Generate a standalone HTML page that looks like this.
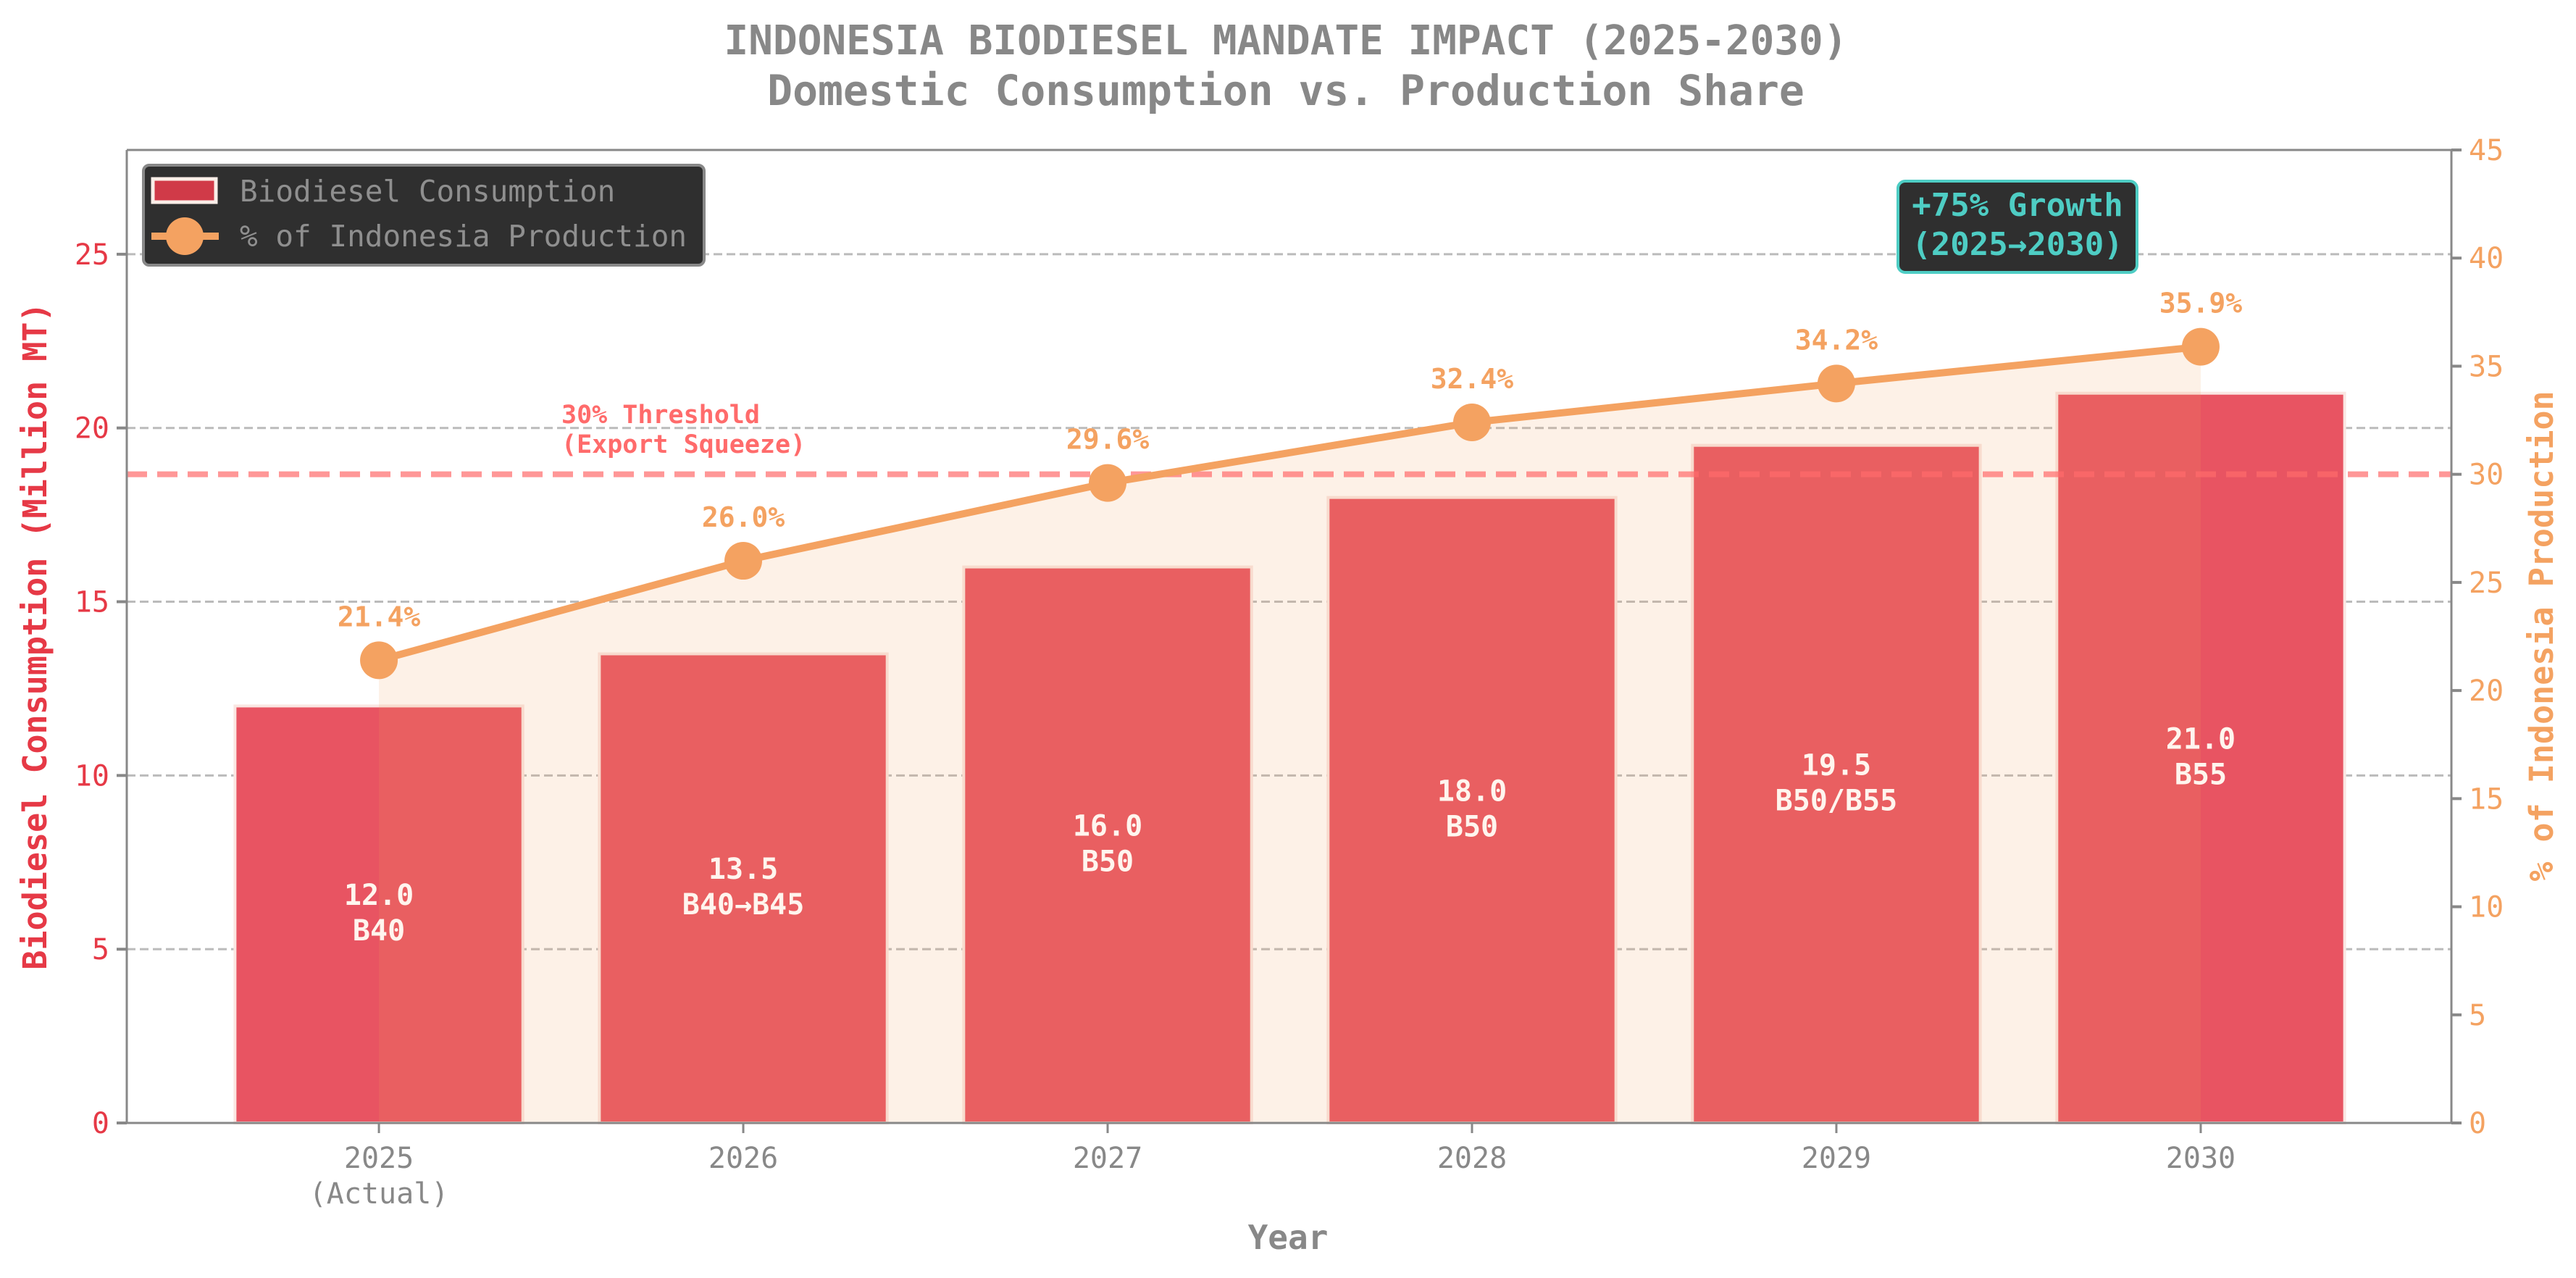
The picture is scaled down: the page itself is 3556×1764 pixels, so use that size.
<!DOCTYPE html>
<html><head><meta charset="utf-8">
<style>
html,body{margin:0;padding:0;background:#fff;}
svg{display:block;font-family:"DejaVu Sans Mono","Liberation Mono",monospace;}
</style></head>
<body>
<svg id="chart" width="3556" height="1764" viewBox="0 0 3556 1764" xmlns="http://www.w3.org/2000/svg">
<g id="grid"></g>
<g id="bars"></g>
<g id="fill"></g>
<g id="thresh"></g>
<g id="line"></g>
<g id="axes"></g>
<g id="labels"></g>
<text x="1775" y="75" text-anchor="middle" font-size="56" font-weight="bold" fill="#888">INDONESIA BIODIESEL MANDATE IMPACT (2025-2030)</text>
<text x="1775" y="145" text-anchor="middle" font-size="58" font-weight="bold" fill="#888">Domestic Consumption vs. Production Share</text>
<text x="1778" y="1724" text-anchor="middle" font-size="46" font-weight="bold" fill="#888">Year</text>
<text transform="translate(64,878) rotate(-90)" text-anchor="middle" font-size="45" font-weight="bold" fill="#E63946">Biodiesel Consumption (Million MT)</text>
<text transform="translate(3524,878) rotate(-90)" text-anchor="middle" font-size="45" font-weight="bold" fill="#F4A261">% of Indonesia Production</text>
<g>
<rect x="198" y="228" width="774" height="138" rx="8" fill="#2f2f2f" stroke="#888" stroke-width="4"/>
<rect x="211" y="247" width="87" height="32" fill="#D03A48" stroke="#fbeee8" stroke-width="5"/>
<text x="331" y="278" font-size="41" fill="#8f8f8f">Biodiesel Consumption</text>
<line x1="209" y1="326" x2="302" y2="326" stroke="#F4A261" stroke-width="10"/>
<circle cx="255" cy="326" r="26" fill="#F4A261"/>
<text x="331" y="340" font-size="41" fill="#8f8f8f">% of Indonesia Production</text>
</g>
<g>
<rect x="2620" y="250" width="330" height="126" rx="10" fill="#2f2f2f" stroke="#4ECDC4" stroke-width="4"/>
<text x="2785" y="298" text-anchor="middle" font-size="44" font-weight="bold" fill="#4ECDC4">+75% Growth</text>
<text x="2785" y="352" text-anchor="middle" font-size="44" font-weight="bold" fill="#4ECDC4">(2025→2030)</text>
</g>
<g>
<text x="775" y="584" font-size="35" font-weight="bold" fill="#FF6B6B">30% Threshold</text>
<text x="775" y="625" font-size="35" font-weight="bold" fill="#FF6B6B">(Export Squeeze)</text>
</g>
</svg>
<script>
const years = ["2025","2026","2027","2028","2029","2030"];
const yearSub = ["(Actual)","","","","",""];
const consumption = [12.0, 13.5, 16.0, 18.0, 19.5, 21.0];
const mandates = ["B40","B40→B45","B50","B50","B50/B55","B55"];
const share = [21.4, 26.0, 29.6, 32.4, 34.2, 35.9];
const leftTicks = [0,5,10,15,20,25];
const rightTicks = [0,5,10,15,20,25,30,35,40,45];
const threshold = 30;

const NS="http://www.w3.org/2000/svg";
const L=175,R=3384,T=207,B=1550;
const xMin=-0.692,xMax=5.688,yMax=28,y2Max=45;
const xs=i=>L+(i-xMin)/(xMax-xMin)*(R-L);
const yL=v=>B-v/yMax*(B-T);
const yR=v=>B-v/y2Max*(B-T);
function mk(tag,attrs,parent,text){const e=document.createElementNS(NS,tag);for(const k in attrs)e.setAttribute(k,attrs[k]);if(text!==undefined)e.textContent=text;document.getElementById(parent).appendChild(e);return e;}

leftTicks.forEach(v=>{if(v>0){
 const g=mk('line',{x1:L,x2:R,y1:yL(v),y2:yL(v),stroke:'#bbb','stroke-width':3,'stroke-dasharray':'12 6'},'grid');
 
 }});

const bw=0.79*(xs(1)-xs(0));
consumption.forEach((v,i)=>{
 const r=mk('rect',{x:xs(i)-bw/2,y:yL(v),width:bw,height:B-yL(v),fill:'#E85462',stroke:'#fae6e2','stroke-width':4},'bars');
 
 
});

let pts=`${xs(0)},${B} `+share.map((v,i)=>`${xs(i)},${yR(v)}`).join(' ')+` ${xs(share.length-1)},${B}`;
const f=mk('polygon',{points:pts,fill:'#F4A261','fill-opacity':0.15},'fill');



const th=mk('line',{x1:L,x2:R,y1:yR(threshold),y2:yR(threshold),stroke:'#FF6B6B','stroke-opacity':0.7,'stroke-width':8,'stroke-dasharray':'28 14'},'thresh');



const pl=mk('polyline',{points:share.map((v,i)=>`${xs(i)},${yR(v)}`).join(' '),fill:'none',stroke:'#F4A261','stroke-width':10,'stroke-linejoin':'round'},'line');


share.forEach((v,i)=>{
 const c=mk('circle',{cx:xs(i),cy:yR(v),r:26,fill:'#F4A261'},'line');
 
 
 const t=mk('text',{x:xs(i),y:yR(v)-47,'text-anchor':'middle','font-size':38,'font-weight':'bold',fill:'#F4A261'},'labels',v.toFixed(1)+'%');
 
 
});

consumption.forEach((v,i)=>{
 const mid=(yL(v)+B)/2;
 const a=mk('text',{x:xs(i),y:mid-13,'text-anchor':'middle','font-size':40,'font-weight':'bold',fill:'#fff5ee'},'labels',v.toFixed(1));
 
 
 const b=mk('text',{x:xs(i),y:mid+36,'text-anchor':'middle','font-size':40,'font-weight':'bold',fill:'#fff5ee'},'labels',mandates[i]);
 
 
});

[[L,T,L,B],[R,T,R,B],[L,T,R,T],[L,B,R,B]].forEach(s=>{
 const l=mk('line',{x1:s[0],y1:s[1],x2:s[2],y2:s[3],stroke:'#888','stroke-width':3},'axes');
 
 
});
leftTicks.forEach(v=>{
 const tk=mk('line',{x1:L-14,x2:L,y1:yL(v),y2:yL(v),stroke:'#888','stroke-width':4},'axes');
 
 
 const t=mk('text',{x:L-24,y:yL(v)+14,'text-anchor':'end','font-size':40,fill:'#E63946'},'axes',String(v));
 
 
});
rightTicks.forEach(v=>{
 const tk=mk('line',{x1:R,x2:R+14,y1:yR(v),y2:yR(v),stroke:'#888','stroke-width':4},'axes');
 
 
 const t=mk('text',{x:R+24,y:yR(v)+14,'text-anchor':'start','font-size':40,fill:'#F4A261'},'axes',String(v));
 
 
});
years.forEach((y,i)=>{
 const tk=mk('line',{x1:xs(i),x2:xs(i),y1:B,y2:B+14,stroke:'#888','stroke-width':3},'axes');
 
 
 const t=mk('text',{x:xs(i),y:1612,'text-anchor':'middle','font-size':40,fill:'#888'},'axes',y);
 
 
 if(yearSub[i]){
  const s=mk('text',{x:xs(i),y:1661,'text-anchor':'middle','font-size':40,fill:'#888'},'axes',yearSub[i]);
  
  
 }
});
</script>
</body></html>
